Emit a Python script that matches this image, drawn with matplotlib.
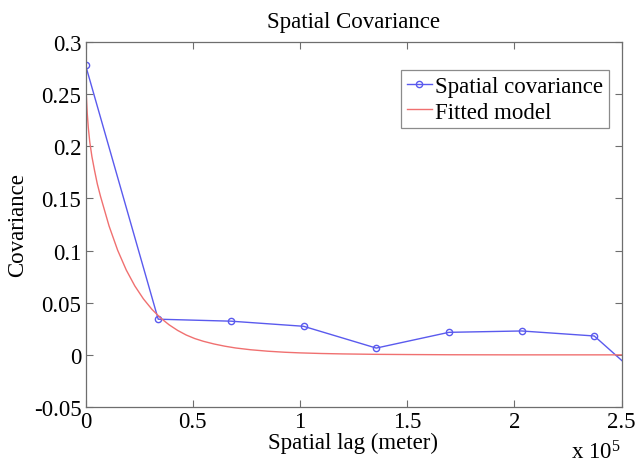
import matplotlib
matplotlib.use("Agg")
import matplotlib.pyplot as plt
from matplotlib.ticker import FuncFormatter

# ---- data ----
lag_m = [0, 33900, 67800, 101700, 135600, 169500, 203400, 237300, 271200]
spatial_cov = [0.278, 0.0342, 0.0323, 0.0274, 0.0065, 0.0216, 0.0229, 0.0181, -0.044]

model_lag_m = [0, 150, 400, 800, 1300, 2000, 3000, 4200, 5500, 7000,
               11000, 15000, 19000, 23000, 27000, 31000, 35000, 39000, 43000,
               47000, 51000, 55000, 60000, 65000, 70000, 77000, 85000, 93000,
               100000, 110000, 120000, 135000, 150000, 170000, 200000, 250000]
model_cov = [0.278, 0.262, 0.248, 0.232, 0.218, 0.204, 0.190, 0.177, 0.164, 0.152,
             0.1235, 0.1003, 0.0814, 0.0661, 0.0537, 0.0436, 0.0354, 0.0288, 0.0234,
             0.0190, 0.0156, 0.0130, 0.0104, 0.0083, 0.0066, 0.0049, 0.0035, 0.0025,
             0.0019, 0.0013, 0.0009, 0.0005, 0.0003, 0.0001, 0.0, 0.0]

x_ticks = [0, 50000, 100000, 150000, 200000, 250000]
y_ticks = [-0.05, 0, 0.05, 0.1, 0.15, 0.2, 0.25, 0.3]

title = "Spatial Covariance"
x_label = "Spatial lag (meter)"
y_label = "Covariance"
series_labels = ["Spatial covariance", "Fitted model"]

plt.rcParams['font.family'] = ['Liberation Serif', 'DejaVu Serif']
plt.rcParams['mathtext.fontset'] = 'custom'
plt.rcParams['mathtext.rm'] = 'Liberation Serif'
plt.rcParams['mathtext.it'] = 'Liberation Serif:italic'
FS = 16.5
axis_gray = '#6e6e6e'
blue = '#5a5aee'
red = '#f07070'

fig = plt.figure(figsize=(6.36, 4.64), dpi=100)
ax = fig.add_axes([85.5 / 636, 1 - 408 / 464, (621.5 - 85.5) / 636, (408 - 43) / 464])

ax.plot(lag_m, spatial_cov, color=blue, lw=1.0, marker='o', markersize=4.5,
        markerfacecolor='none', markeredgecolor=blue, markeredgewidth=1.0,
        label=series_labels[0])
ax.plot(model_lag_m, model_cov, color=red, lw=1.0, label=series_labels[1])

ax.set_xlim(0, 250000)
ax.set_ylim(-0.05, 0.3)
ax.set_xticks(x_ticks)
ax.set_yticks(y_ticks)
ax.xaxis.set_major_formatter(FuncFormatter(lambda v, p: '%g' % (v / 1e5)))
ax.yaxis.set_major_formatter(FuncFormatter(lambda v, p: '%g' % round(v, 4)))

ax.tick_params(direction='in', top=True, right=True, length=5, width=0.8,
               color=axis_gray, labelsize=FS)
ax.tick_params(axis='x', pad=3)
ax.tick_params(axis='y', pad=3)
for s in ax.spines.values():
    s.set_color(axis_gray)
    s.set_linewidth(0.9)

ax.set_title(title, fontsize=FS, pad=11)
ax.set_xlabel(x_label, fontsize=FS, labelpad=0)
ax.set_ylabel(y_label, fontsize=FS, labelpad=4)

fig.text(621 / 636, 4 / 464, r'x 10$^{\mathrm{5}}$', ha='right', va='baseline',
         fontsize=FS)

leg = ax.legend(loc='upper right', bbox_to_anchor=(0.977, 0.923), fontsize=FS,
                frameon=True, fancybox=False, handlelength=1.1, handletextpad=0.15,
                borderpad=0.25, labelspacing=0.2, borderaxespad=0.0)
leg.get_frame().set_edgecolor(axis_gray)
leg.get_frame().set_linewidth(0.9)

fig.savefig('out.png', dpi=100)
